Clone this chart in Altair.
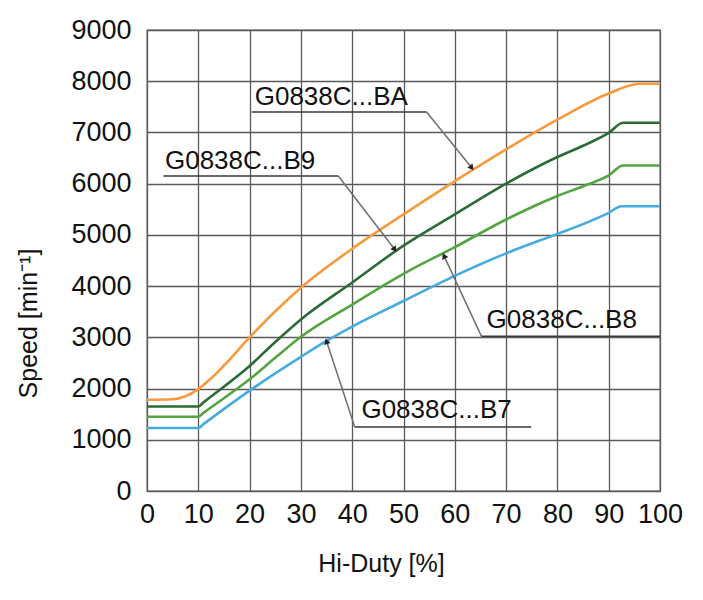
import altair as alt
import pandas as pd

# ---- series data ----
x_ba = [0, 5, 7.5, 10, 12.5, 15, 20, 25, 30, 40, 50, 60, 70, 80, 90, 96, 100]
y_ba = [1780, 1790, 1850, 1990, 2200, 2450, 3000, 3510, 3970, 4730, 5400, 6050, 6670, 7250, 7760, 7950, 7950]

x_b9 = [0, 10, 11, 20, 25, 30, 40, 50, 60, 70, 80, 85, 90, 92.8, 100]
y_b9 = [1650, 1650, 1730, 2440, 2910, 3350, 4070, 4790, 5400, 6000, 6520, 6740, 6990, 7190, 7190]

x_b8 = [0, 10, 11, 20, 25, 30, 40, 50, 60, 70, 80, 85, 90, 92.8, 100]
y_b8 = [1450, 1450, 1525, 2180, 2600, 3010, 3640, 4240, 4760, 5300, 5760, 5950, 6160, 6355, 6355]

x_b7 = [0, 10, 11, 20, 30, 35, 40, 50, 60, 70, 80, 85, 90, 92.5, 100]
y_b7 = [1230, 1230, 1305, 1960, 2620, 2930, 3210, 3710, 4200, 4640, 5020, 5210, 5430, 5560, 5560]

series_names = ["BA", "B9", "B8", "B7"]
series_colors = ["#f79a3e", "#2b6b35", "#52a640", "#45abe0"]

# ---- annotations ----
labels = ["G0838C...BA", "G0838C...B9", "G0838C...B8", "G0838C...B7"]
label_x = [21.0, 3.5, 66.2, 41.8]
label_y = [7530, 6290, 3190, 1430]
under_x1 = [20.4, 3.2, 65.2, 40.5]
under_x2 = [54.5, 37.3, 100, 74.9]
under_y = [7400, 6150, 3020, 1250]
leader_x = [54.5, 37.3, 65.2, 40.5]
tip_x = [63.3, 48.3, 57.9, 35.0]
tip_y = [6310, 4715, 4590, 2925]
arrow_angle = [141, 142, 335, 342]

x_ticks = list(range(0, 101, 10))
y_ticks = list(range(0, 9001, 1000))

rows = []
for name, xs, ys in [("BA", x_ba, y_ba), ("B9", x_b9, y_b9), ("B8", x_b8, y_b8), ("B7", x_b7, y_b7)]:
    for i, (a, b) in enumerate(zip(xs, ys)):
        rows.append({"series": name, "x": a, "y": b, "order": i})
df = pd.DataFrame(rows)

ann = pd.DataFrame({
    "label": labels, "lx": label_x, "ly": label_y,
    "ux1": under_x1, "ux2": under_x2, "uy": under_y,
    "leadx": leader_x, "tx": tip_x, "ty": tip_y, "ang": arrow_angle,
})

FONT = "Liberation Sans"

xscale = alt.Scale(domain=[0, 100], nice=False, zero=False)
yscale = alt.Scale(domain=[0, 9000], nice=False, zero=False)

lines = alt.Chart(df).mark_line(strokeWidth=2.6, interpolate="monotone").encode(
    x=alt.X("x:Q", scale=xscale,
            axis=alt.Axis(values=x_ticks, title="Hi-Duty [%]", grid=True, ticks=False,
                          domain=False, labelPadding=10, labelOverlap=False, labelFlush=False,
                          titleX=234, titleY=72,
                          titleBaseline="middle", titleAlign="center")),
    y=alt.Y("y:Q", scale=yscale,
            axis=alt.Axis(values=y_ticks, title="Speed [min⁻¹]", format="d", grid=True,
                          ticks=False, domain=False, labelPadding=16, labelOverlap=False,
                          labelFlush=False,
                          titleX=-119, titleY=293, titleAngle=-90,
                          titleBaseline="middle", titleAlign="center")),
    color=alt.Color("series:N", scale=alt.Scale(domain=series_names, range=series_colors), legend=None),
    order="order:Q",
)

underlines = alt.Chart(ann).mark_rule(color="#3a3a3a", strokeWidth=1.6).encode(
    x="ux1:Q", x2="ux2:Q", y="uy:Q"
)
leaders = alt.Chart(ann).mark_rule(color="#6f6f6f", strokeWidth=1.5).encode(
    x="leadx:Q", y="uy:Q", x2="tx:Q", y2="ty:Q"
)
arrows = alt.Chart(ann).mark_point(shape="triangle-up", filled=True, color="#222222",
                                   size=45, opacity=1).encode(
    x="tx:Q", y="ty:Q", angle=alt.Angle("ang:Q", scale=None)
)
texts = alt.Chart(ann).mark_text(align="left", baseline="alphabetic", font=FONT,
                                 fontSize=26, color="#111111").encode(
    x="lx:Q", y="ly:Q", text="label:N"
)

chart = alt.layer(lines, leaders, underlines, arrows, texts).properties(
    width=513, height=461,
    autosize=alt.AutoSizeParams(type="none"),
    padding={"left": 139, "top": 22, "right": 35, "bottom": 100},
    background="white",
).configure_axis(
    gridColor="#5a5a5a", gridWidth=1.3, gridOpacity=1,
    labelFont=FONT, labelFontSize=27, labelColor="#111111",
    titleFont=FONT, titleFontSize=25, titleFontWeight="normal", titleColor="#111111",
).configure_view(stroke="#5a5a5a", strokeWidth=1.3)

chart.save("out.html", embed_options={"renderer": "svg", "actions": False})
